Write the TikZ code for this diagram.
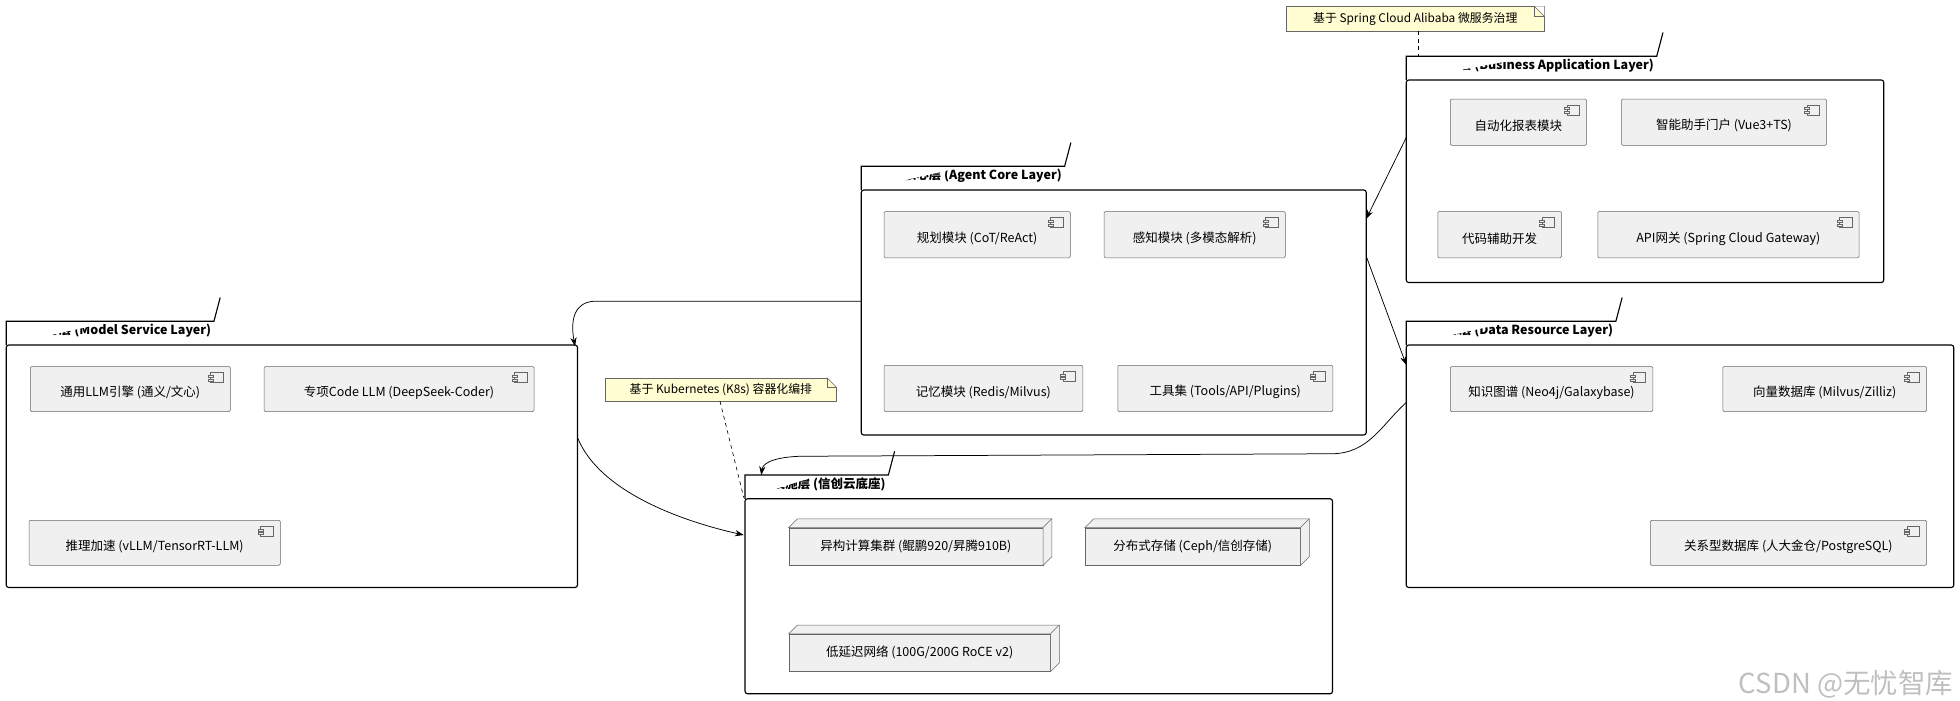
\documentclass[tikz,border=0pt]{standalone}
\usepackage{fontspec}
\setmainfont{Noto Sans CJK SC}
\usetikzlibrary{arrows.meta,calc}
\tikzset{
 comp/.style={draw=black!60,fill=black!6,rounded corners=1pt,inner sep=0pt,font=\fontsize{10}{12}\selectfont},
 nodebox/.style={draw=black!60,fill=black!6,inner sep=0pt,font=\fontsize{10}{12}\selectfont},
 pkgtitle/.style={anchor=north west,inner sep=2pt,font=\fontsize{10}{12}\selectfont\bfseries},
 pkg/.style={draw,line width=0.9pt},
 note/.style={draw=black!60,fill=yellow!18,inner sep=3pt,font=\fontsize{9.5}{11}\selectfont},
 conn/.style={-{Stealth[length=7pt,width=5pt]},line width=0.6pt},
 notelink/.style={dashed,line width=0.5pt}
}
\newcommand\mycomp[6]{%
 \node[comp,minimum width=#4-#2,minimum height=#5-#3,anchor=north west] (#1) at (#2,#3) {};
 \node[font=\fontsize{10}{12}\selectfont] at ($(#1.center)+(0,3)$) {#6};
 \draw[black!60,fill=black!6] ($(#1.north east)+(-16,5)$) rectangle ($(#1.north east)+(-6,13)$);
 \draw[black!60,fill=black!6] ($(#1.north east)+(-18,7)$) rectangle ($(#1.north east)+(-14,8.6)$);
 \draw[black!60,fill=black!6] ($(#1.north east)+(-18,10)$) rectangle ($(#1.north east)+(-14,11.6)$);
}
\newcommand\mynode[6]{%
 \node[nodebox,minimum width=#4-#2,minimum height=#5-#3,anchor=north west] (#1) at (#2,#3) {};
 \draw[black!60,fill=black!6] (#1.north west)--++(7,-7)--($(#1.north east)+(7,-7)$)--($(#1.south east)+(7,-7)$)--(#1.south east)--(#1.north east)--cycle;
 \draw[black!60] (#1.north east)--++(7,-7);
 \node[font=\fontsize{10}{12}\selectfont] at ($(#1.center)+(0,0)$) {#6};
}
\newcommand\mypkg[6]{% name x1 ytab x2 y2 title
 \node[pkgtitle] (#1t) at (#2,#3) {#6};
 \draw[pkg,fill=white] (#2,#3+19) -- (#2,#3) -- (#1t.north east) -- ($(#1t.north east)+(5,-19)$);
 \draw[pkg,rounded corners=2pt] (#2,#3+19) rectangle (#4,#5);
 \coordinate (#1) at (#2,#3);
}
\begin{document}
\begin{tikzpicture}[x=1pt,y=-1pt]
\useasboundingbox (0,0) rectangle (1568,560);
% packages
\mypkg{biz}{1125}{45}{1507}{226}{业务应用层 (Business Application Layer)}
\mycomp{b1}{1160}{79}{1269}{116}{自动化报表模块}
\mycomp{b2}{1297}{79}{1461}{116}{智能助手门户 (Vue3+TS)}
\mycomp{b3}{1150}{169}{1249}{206}{代码辅助开发}
\mycomp{b4}{1278}{169}{1487}{206}{API网关 (Spring Cloud Gateway)}

\mypkg{agent}{689}{133}{1093}{348}{Agent 核心层 (Agent Core Layer)}
\mycomp{a1}{707}{169}{856}{206}{规划模块 (CoT/ReAct)}
\mycomp{a2}{883}{169}{1028}{206}{感知模块 (多模态解析)}
\mycomp{a3}{707}{292}{866}{329}{记忆模块 (Redis/Milvus)}
\mycomp{a4}{894}{292}{1066}{329}{工具集 (Tools/API/Plugins)}

\mypkg{model}{5}{257}{462}{470}{模型服务层 (Model Service Layer)}
\mycomp{m1}{24}{293}{184}{329}{通用LLM引擎 (通义/文心)}
\mycomp{m2}{211}{293}{427}{329}{专项Code LLM (DeepSeek-Coder)}
\mycomp{m3}{23}{416}{224}{452}{推理加速 (vLLM/TensorRT-LLM)}

\mypkg{infra}{596}{380}{1066}{555}{基础设施层 (信创云底座)}
\mynode{i1}{631}{422}{834}{452}{异构计算集群 (鲲鹏920/昇腾910B)}
\mynode{i2}{868}{422}{1040}{452}{分布式存储 (Ceph/信创存储)}
\mynode{i3}{631}{507}{840}{537}{低延迟网络 (100G/200G RoCE v2)}

\mypkg{data}{1125}{257}{1563}{470}{数据资源层 (Data Resource Layer)}
\mycomp{d1}{1160}{293}{1322}{329}{知识图谱 (Neo4j/Galaxybase)}
\mycomp{d2}{1378}{293}{1541}{329}{向量数据库 (Milvus/Zilliz)}
\mycomp{d3}{1320}{416}{1541}{452}{关系型数据库 (人大金仓/PostgreSQL)}

% notes
\node[note,anchor=north west,minimum width=206,minimum height=20] (n1) at (1029,5) {基于 Spring Cloud Alibaba 微服务治理};
\fill[white] (n1.north east) -- ++(-8,0) -- ++(8,8) -- cycle;
\draw[black!60] ($(n1.north east)+(-8,0)$) -- ++(0,8) -- ++(8,0);
\draw[black!60] ($(n1.north east)+(-8,0)$) -- ++(8,8);
\node[note,anchor=north west,minimum width=185,minimum height=19] (n2) at (484,302) {基于 Kubernetes (K8s) 容器化编排};
\fill[white] (n2.north east) -- ++(-8,0) -- ++(8,8) -- cycle;
\draw[black!60] ($(n2.north east)+(-8,0)$) -- ++(0,8) -- ++(8,0);
\draw[black!60] ($(n2.north east)+(-8,0)$) -- ++(8,8);
\coordinate (n1a) at (1135,25);
\coordinate (bizn) at (1135,45);
\draw[notelink] (n1a) -- (bizn);
\coordinate (n2a) at (576,321);
\coordinate (infn) at (595,398);
\draw[notelink] (n2a) -- (infn);

% connectors
\coordinate (bizL) at (1125,110);
\coordinate (agR) at (1093,175);
\draw[conn] (bizL) -- (agR);
\coordinate (agR2) at (1093,205);
\coordinate (dataL) at (1125,292);
\draw[conn] (agR2) -- (dataL);
\coordinate (agL) at (689,241);
\coordinate (modR) at (460,277);
\draw[conn] (agL) -- (475,241) .. controls (460,242) and (456,255) .. (modR);
\coordinate (modR2) at (462,350);
\coordinate (infL) at (595,428);
\draw[conn] (modR2) .. controls (480,395) and (550,418) .. (infL);
\coordinate (dataL2) at (1125,322);
\coordinate (infT) at (609,380);
\draw[conn] (dataL2) .. controls (1105,340) and (1095,363) .. (1065,363) -- (640,365) .. controls (615,366) and (610,372) .. (infT);

% watermark
\node[anchor=south east,text=black!25,font=\fontsize{22}{24}\selectfont] (wm) at (1566,562) {CSDN @无忧智库};
\end{tikzpicture}
\end{document}
